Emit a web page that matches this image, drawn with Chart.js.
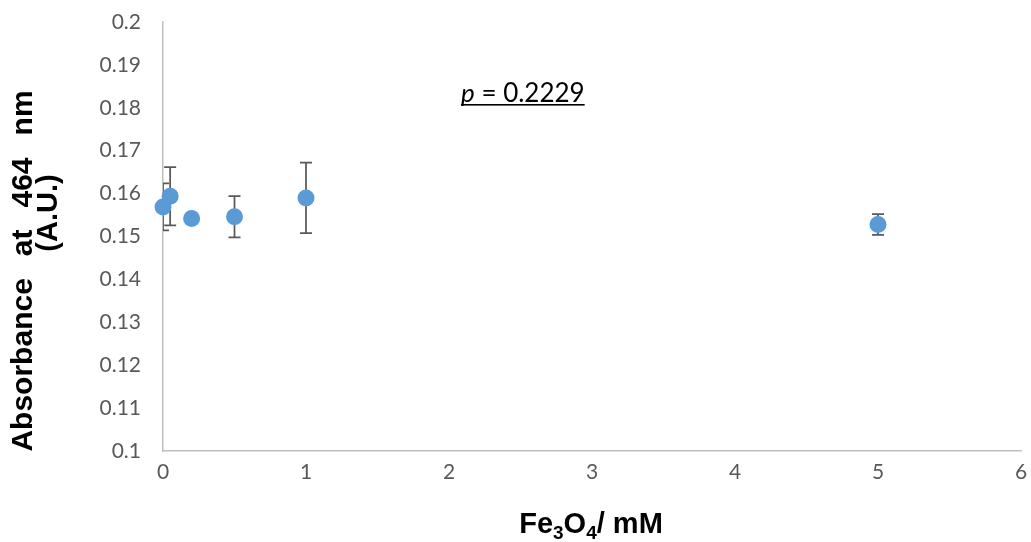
<!DOCTYPE html>
<html>
<head>
<meta charset="utf-8">
<script src="https://cdn.jsdelivr.net/npm/chart.js@4/dist/chart.umd.min.js"></script>
<style>
  html, body { margin: 0; padding: 0; background: #ffffff; }
  #wrap { width: 1031px; height: 542px; }
</style>
</head>
<body>
<div id="wrap"><canvas id="c" width="1031" height="542"></canvas></div>
<script>
// Fe3O4 concentration (mM) and measured absorbance at 464 nm
const concentrations = [0, 0.05, 0.2, 0.5, 1, 5];
const absorbance = [0.1569, 0.1594, 0.1542, 0.1546, 0.1590, 0.1528];
const absorbanceErr = [0.0055, 0.0068, 0.0010, 0.0048, 0.0082, 0.0024];

// Axis tick settings
const xTicks = [0, 1, 2, 3, 4, 5, 6];
const yTicks = [0.1, 0.11, 0.12, 0.13, 0.14, 0.15, 0.16, 0.17, 0.18, 0.19, 0.2];

const pValueText = '0.2229';
const yTitleWords = ['Absorbance', 'at', '464', 'nm'];
const yTitleUnits = '(A.U.)';

const TICK_FONT = { family: 'Lato, "Open Sans", sans-serif', size: 21 };
const TITLE_FONT = 'bold 29px "Liberation Sans", Arial, sans-serif';
const YTITLE_FONT = 'bold 30px "Liberation Sans", Arial, sans-serif';
const SUB_FONT = 'bold 19px "Liberation Sans", Arial, sans-serif';

const decorations = {
  id: 'decorations',
  beforeDatasetsDraw(chart) {
    const { ctx, chartArea, scales } = chart;
    const xs = scales.x, ys = scales.y;
    ctx.save();
    ctx.beginPath();
    ctx.rect(chartArea.left, chartArea.top, chartArea.right - chartArea.left, chartArea.bottom - chartArea.top);
    ctx.clip();
    ctx.strokeStyle = '#595959';
    ctx.lineWidth = 1.75;
    const cap = 6;
    concentrations.forEach((c, i) => {
      const px = xs.getPixelForValue(c);
      const top = ys.getPixelForValue(absorbance[i] + absorbanceErr[i]);
      const bot = ys.getPixelForValue(absorbance[i] - absorbanceErr[i]);
      ctx.beginPath();
      ctx.moveTo(px, top); ctx.lineTo(px, bot);
      ctx.moveTo(px - cap, top); ctx.lineTo(px + cap, top);
      ctx.moveTo(px - cap, bot); ctx.lineTo(px + cap, bot);
      ctx.stroke();
    });
    ctx.restore();
  },
  afterDraw(chart) {
    const { ctx } = chart;
    ctx.save();
    ctx.fillStyle = '#000000';
    ctx.textBaseline = 'alphabetic';

    // Y axis title: first line spread over the axis height, units on a second line
    ctx.font = YTITLE_FONT;
    const gap = 22;
    const widths = yTitleWords.map(wd => ctx.measureText(wd).width);
    const lineLen = widths.reduce((a, b) => a + b, 0) + gap * (yTitleWords.length - 1);
    ctx.save();
    ctx.translate(32, 271);
    ctx.rotate(-Math.PI / 2);
    ctx.textAlign = 'left';
    let pos = -lineLen / 2;
    yTitleWords.forEach((wd, i) => {
      ctx.fillText(wd, pos, 0);
      pos += widths[i] + gap;
    });
    ctx.restore();
    ctx.font = TITLE_FONT;
    ctx.save();
    ctx.translate(57, 213);
    ctx.rotate(-Math.PI / 2);
    ctx.textAlign = 'center';
    ctx.fillText(yTitleUnits, 0, 0);
    ctx.restore();

    // X axis title with subscripts: Fe3O4/ mM
    const parts = [
      ['Fe', TITLE_FONT, 0], ['3', SUB_FONT, 6], ['O', TITLE_FONT, 0], ['4', SUB_FONT, 6], ['/ mM', TITLE_FONT, 0]
    ];
    let total = 0;
    parts.forEach(p => { ctx.font = p[1]; total += ctx.measureText(p[0]).width; });
    let x = 591 - total / 2;
    ctx.textAlign = 'left';
    parts.forEach(p => {
      ctx.font = p[1];
      ctx.fillText(p[0], x, 533 + p[2]);
      x += ctx.measureText(p[0]).width;
    });

    // p-value annotation, underlined
    const px0 = 461, base = 101.5;
    ctx.font = 'italic 26px Lato, "Open Sans", sans-serif';
    ctx.fillText('p', px0, base);
    let w = ctx.measureText('p').width;
    ctx.font = '26px Lato, "Open Sans", sans-serif';
    const rest = ' = ' + pValueText;
    ctx.fillText(rest, px0 + w, base);
    w += ctx.measureText(rest).width;
    ctx.fillRect(px0, base + 2.5, w, 1.6);
    ctx.restore();
  }
};

new Chart(document.getElementById('c').getContext('2d'), {
  type: 'scatter',
  data: {
    datasets: [{
      data: concentrations.map((c, i) => ({ x: c, y: absorbance[i] })),
      backgroundColor: '#5B9BD5',
      borderColor: '#5B9BD5',
      borderWidth: 0,
      pointRadius: 8.5,
      pointHoverRadius: 8.5,
      clip: false
    }]
  },
  options: {
    responsive: false,
    animation: false,
    events: [],
    layout: { padding: { top: 22, right: 10, bottom: 0, left: 0 } },
    plugins: { legend: { display: false }, tooltip: { enabled: false } },
    scales: {
      x: {
        type: 'linear',
        min: xTicks[0],
        max: xTicks[xTicks.length - 1],
        afterBuildTicks(s) { s.ticks = xTicks.map(v => ({ value: v })); },
        ticks: { color: '#595959', font: TICK_FONT, padding: 9, callback: v => String(v) },
        grid: { display: false, drawTicks: false },
        border: { display: true, color: '#bfbfbf', width: 1.5 },
        afterFit(s) { s.height = 91; s.paddingLeft = 0; s.paddingRight = 0; }
      },
      y: {
        type: 'linear',
        min: yTicks[0],
        max: yTicks[yTicks.length - 1],
        afterBuildTicks(s) { s.ticks = yTicks.map(v => ({ value: v })); },
        ticks: { color: '#595959', font: TICK_FONT, padding: 22, callback: v => String(parseFloat(v.toFixed(2))) },
        grid: { display: false, drawTicks: false },
        border: { display: true, color: '#bfbfbf', width: 1.5 },
        afterFit(s) { s.width = 163; s.paddingTop = 0; s.paddingBottom = 0; }
      }
    }
  },
  plugins: [decorations]
});
</script>
</body>
</html>
